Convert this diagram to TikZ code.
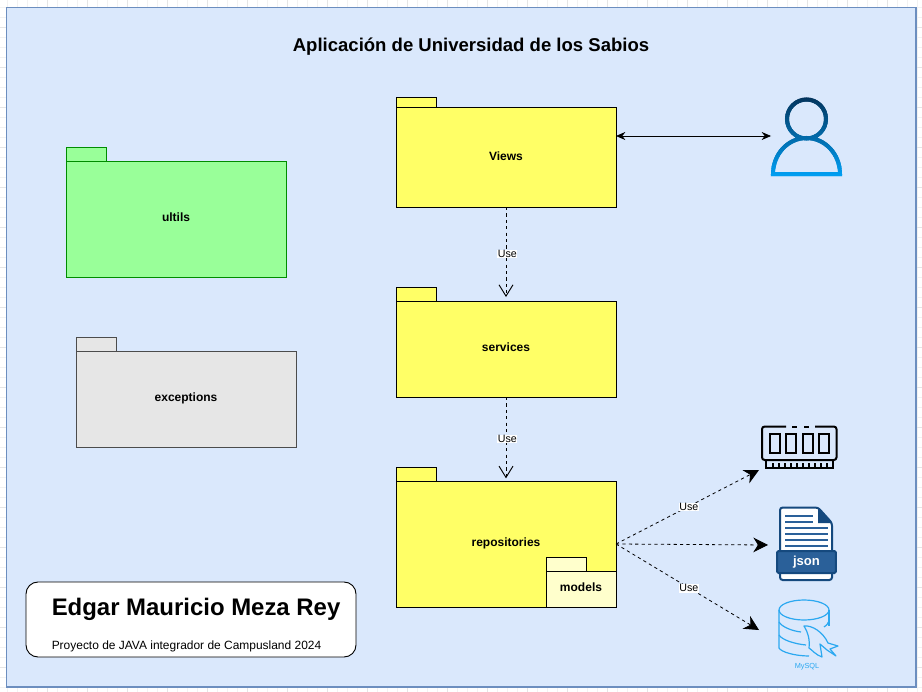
\documentclass[tikz,border=0pt]{standalone}
\usepackage{fontspec}
\setmainfont{Liberation Sans}
\usetikzlibrary{arrows.meta}
\definecolor{paneblue}{HTML}{DAE8FC}
\definecolor{paneline}{HTML}{6C8EBF}
\definecolor{pkgyellow}{HTML}{FFFF66}
\definecolor{pkgpale}{HTML}{FFFFCC}
\definecolor{pkggreen}{HTML}{99FF99}
\definecolor{pkggrey}{HTML}{E6E6E6}
\definecolor{jsonblue}{HTML}{2A6099}
\definecolor{jsondark}{HTML}{15497E}
\definecolor{sqlblue}{HTML}{2BA8F0}
\definecolor{persontop}{HTML}{03325A}
\definecolor{personbottom}{HTML}{00A0F5}
\begin{document}
\begin{tikzpicture}[x=0.75pt,y=-0.75pt,
                        pkg/.style={draw,line width=0.6pt,inner sep=0pt,outer sep=0pt,minimum width=165pt,font=\bfseries\fontsize{9}{11}\selectfont,text height=6.5pt,text depth=2.5pt},
                        pkgtab/.style={draw,line width=0.6pt,inner sep=0pt,outer sep=0pt,minimum width=30pt,anchor=south west},
                        use/.style={draw,line width=0.6pt,dashed,dash pattern=on 2.4pt off 2.4pt},
                        uselabel/.style={fill=white,inner sep=0.5pt,xshift=1pt,font=\fontsize{8}{10}\selectfont},
                        opentip/.style={-{Straight Barb[length=8.5pt,width=10.5pt,line width=0.7pt]}},
                        bigtip/.style={-{Stealth[length=11pt,width=11pt,inset=3.5pt]}},
                        ]
                        \useasboundingbox (0,0) rectangle (922,692);
                        \fill [white] (0,0) rectangle (922,692);
                        %Raster am Rand
                        \foreach \x in {7,17,...,917} \draw [black!5,line width=0.5pt] (\x,0) -- (\x,692);
                        \foreach \y in {7,17,...,687} \draw [black!5,line width=0.5pt] (0,\y) -- (922,\y);
                        \foreach \x in {47,87,...,917} \draw [black!10,line width=0.6pt] (\x,0) -- (\x,692);
                        \foreach \y in {27,67,...,667} \draw [black!10,line width=0.6pt] (0,\y) -- (922,\y);
                        %Flaeche
                        \draw [paneline,fill=paneblue,line width=0.8pt] (6.5,7.5) rectangle (916,687);
                        \node [font=\bfseries\fontsize{13.9}{16}\selectfont] (title) at (471,47) {Aplicación de Universidad de los Sabios};
                        %Pakete
                        \node [pkg,fill=pkgyellow,minimum height=75pt,text depth=1pt] (views) at (506,157) {Views};
                        \node [pkgtab,fill=pkgyellow,minimum height=7.5pt] (viewstab) at (views.north west) {};
                        \node [pkg,fill=pkgyellow,minimum height=72pt] (services) at (506,349) {services};
                        \node [pkgtab,fill=pkgyellow,minimum height=10.5pt] (servicestab) at (services.north west) {};
                        \node [pkg,fill=pkgyellow,minimum height=94.5pt] (repos) at (506,544) {repositories};
                        \node [pkgtab,fill=pkgyellow,minimum height=10.5pt] (repostab) at (repos.north west) {};
                        \node [pkg,fill=pkgpale,minimum width=52.5pt,minimum height=27pt,text depth=3.5pt] (models) at (581,589) {models};
                        \node [pkgtab,fill=pkgpale,minimum height=10.5pt] (modelstab) at (models.north west) {};
                        \node [pkg,fill=pkggreen,draw=green!55!black,minimum height=87pt] (utils) at (176,219) {ultils};
                        \node [pkgtab,fill=pkggreen,draw=green!55!black,minimum height=10.5pt] (utilstab) at (utils.north west) {};
                        \node [pkg,fill=pkggrey,draw=black!70,minimum height=72pt] (exceptions) at (186,399) {exceptions};
                        \node [pkgtab,fill=pkggrey,draw=black!70,minimum height=10.5pt] (exceptionstab) at (exceptions.north west) {};
                        %Karte
                        \node [draw,fill=white,line width=0.7pt,rounded corners=9pt,minimum width=247.5pt,minimum height=56.25pt,inner sep=0pt] (card) at (191,619.5) {};
                        \node [anchor=base west,inner sep=0pt,font=\bfseries\fontsize{17.95}{20}\selectfont] (author) at (51.5,615) {Edgar Mauricio Meza Rey};
                        \node [anchor=base west,inner sep=0pt,font=\fontsize{8.97}{11}\selectfont] (project) at (51.5,649) {Proyecto de JAVA integrador de Campusland 2024};
                        %Anschluesse der Symbole
                        \coordinate (user) at (771,136);
                        \coordinate (ram) at (759,470);
                        \coordinate (json) at (768,545);
                        \coordinate (mysql) at (759,630);
                        %Pfeile
                        \draw [line width=0.6pt,{Stealth[length=7pt,width=6pt]}-{Stealth[length=7pt,width=6pt]}] (views.east |- user) -- (user);
                        \draw [use,opentip,shorten >=3pt] (views.south) -- node [uselabel] (use1) {Use} (services.north);
                        \draw [use,opentip,shorten >=2pt] (services.south) -- node [uselabel] (use2) {Use} (repos.north);
                        \draw [use,bigtip] (repos.east) -- node [uselabel,pos=0.5] (use3) {Use} (ram);
                        \draw [use,bigtip] (repos.east) -- (json);
                        \draw [use,bigtip] (repos.east) -- node [uselabel,pos=0.5,yshift=-1pt] (use4) {Use} (mysql);
                        %Person
                        \foreach \y [evaluate=\y as \p using {int(min(100,(\y-96)*1.25))}] in {96,98,...,176} {
                        \colorlet{bandcolor}{personbottom!\p!persontop}
                        \begin{scope}
                        \clip (760,\y) rectangle (850,\y+2.4);
                        \draw [line width=3pt,bandcolor]
                        (806.5,119) circle (19.5)
                        (773,174) arc (180:360:33.5 and 36) -- cycle;
                        \end{scope}
                        }
                        %Speicher
                        \draw [line width=1.5pt,rounded corners=2pt] (786,426.5) -- (762,426.5) -- (762,460) -- (836.5,460) -- (836.5,426.5) -- (815,426.5);
                        \draw [line width=1.5pt] (792,426.5) -- (797,426.5) (804,426.5) -- (809,426.5);
                        \foreach \x in {769.5,786,802.5,819} \draw [line width=1.5pt] (\x,434) rectangle +(10,18.5);
                        \draw [line width=1.5pt] (766,460) -- (766,468) -- (832.5,468) -- (832.5,460);
                        \foreach \x in {773,779,...,827} \draw [line width=1pt] (\x,468) -- (\x,463);
                        %JSON
                        \draw [jsondark,fill=white,line width=1.5pt,rounded corners=2pt] (780,552) -- (780,507.5) -- (818,507.5) -- (832,523) -- (832,552) (780,572) -- (780,580) -- (832,580) -- (832,572);
                        \fill [jsondark] (818,507.5) -- (832,523) -- (818,523) -- cycle;
                        \foreach \y/\e in {516/813,522/813,528/828,534/828,540/828,546/828} \draw [jsonblue,line width=1.2pt] (785,\y) -- (\e,\y);
                        \node [draw=jsondark,fill=jsonblue,line width=1.5pt,rounded corners=1pt,minimum width=44pt,minimum height=16.5pt,inner sep=0pt,text=white,font=\bfseries\fontsize{9.8}{11}\selectfont] (jsonband) at (806.5,562) {json};
                        %MySQL
                        \draw [sqlblue,line width=0.9pt] (804,610) ellipse (25 and 10);
                        \draw [sqlblue,line width=0.9pt] (779,610) -- (779,648) .. controls (781,652) and (795,656) .. (809,656);
                        \draw [sqlblue,line width=0.9pt] (829,610) -- (829,626);
                        \draw [sqlblue,line width=0.9pt] (779,622) .. controls (782,627) and (792,631) .. (801,632);
                        \draw [sqlblue,line width=0.9pt] (779,635) .. controls (782,640) and (795,644) .. (806,645);
                        \draw [sqlblue,line width=0.9pt] (829,621) .. controls (828,624) and (826,626) .. (824,627);
                        \draw [sqlblue,line width=0.9pt,line join=round] (804,626) .. controls (812,625) and (823,632) .. (828,643) -- (838,646) -- (830,649) -- (836,656) -- (827,650) -- (820,644) -- (822,657) .. controls (816,655) and (812,650) .. (809,648) .. controls (810,640) and (808,632) .. cycle;
                        \node [text=sqlblue,inner sep=0pt,font=\fontsize{5.5}{6}\selectfont] (sqllabel) at (807,666.5) {MySQL};
                \end{tikzpicture}
\end{document}
